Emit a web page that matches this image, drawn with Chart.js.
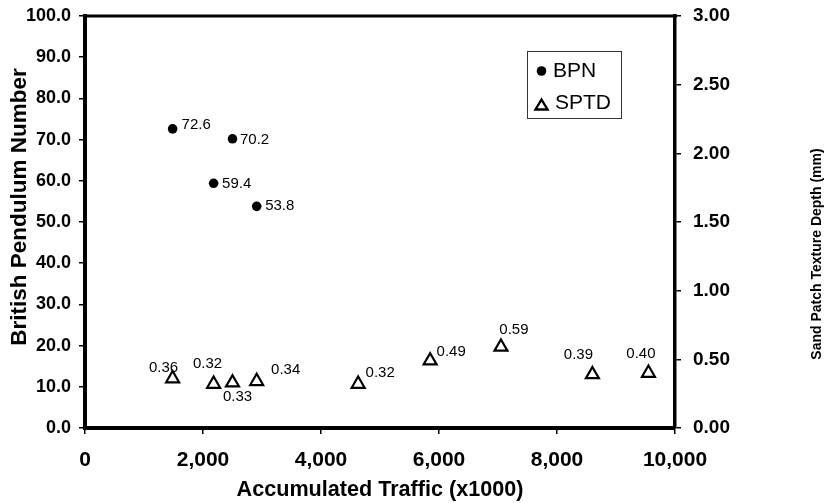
<!DOCTYPE html>
<html>
<head>
<meta charset="utf-8">
<script src="https://cdn.jsdelivr.net/npm/chart.js@4.4.0/dist/chart.umd.min.js"></script>
<style>
  body { margin: 0; background: #fff; }
  canvas { display: block; }
</style>
</head>
<body>
<canvas id="chart-area" width="829" height="503"></canvas>
<script>
// traffic (x1000) where each section was measured
var traffic = [1485, 2180, 2500, 2910, 4630, 5850, 7050, 8600, 9550]
// british pendulum number, only the first four sections
var bpn = [72.6, 59.4, 70.2, 53.8]
// sand patch texture depth (mm)
var sptd = [0.36, 0.32, 0.33, 0.34, 0.32, 0.49, 0.59, 0.39, 0.40]

var xTicks = [0, 2000, 4000, 6000, 8000, 10000]
var bpnTicks = [0, 10, 20, 30, 40, 50, 60, 70, 80, 90, 100]
var sptdTicks = [0, 0.5, 1, 1.5, 2, 2.5, 3]

// where the value text goes next to each mark (dx, dy in px)
var bpnLabelPos = [[9, -4], [8.5, 1], [7.5, 1], [8.5, 0]]
var sptdLabelPos = [[-9, -11], [-6, -20.5], [5, 14], [29, -11], [22, -11.5], [21, -9], [13, -17], [-14, -19.5], [-7.5, -19]]

var FONT = '"Liberation Sans", Arial, sans-serif'

var bpnPoints = bpn.map(function(v, i){ return {x: traffic[i], y: v} })
var sptdPoints = sptd.map(function(v, i){ return {x: traffic[i], y: v} })

var valueLabels = {
	id: 'valueLabels',
	afterDatasetsDraw: function(chart){
		var ctx = chart.ctx
		ctx.save()
		ctx.fillStyle = '#000'
		ctx.font = '15px ' + FONT
		ctx.textBaseline = 'middle'

		var m0 = chart.getDatasetMeta(0)
		ctx.textAlign = 'left'
		m0.data.forEach(function(p, i){
			ctx.fillText(bpn[i].toFixed(1), p.x + bpnLabelPos[i][0], p.y + bpnLabelPos[i][1])
		})

		var m1 = chart.getDatasetMeta(1)
		ctx.textAlign = 'center'
		m1.data.forEach(function(p, i){
			ctx.fillText(sptd[i].toFixed(2), p.x + sptdLabelPos[i][0], p.y + sptdLabelPos[i][1])
		})
		ctx.restore()
	}
}

// top edge of the frame, y axis titles and the boxed legend
var frameAndLegend = {
	id: 'frameAndLegend',
	afterDraw: function(chart){
		var ctx = chart.ctx
		var a = chart.chartArea
		ctx.save()

		ctx.strokeStyle = '#000'
		ctx.lineWidth = 3
		ctx.beginPath()
		ctx.moveTo(a.left - 2, a.top)
		ctx.lineTo(a.right + 2, a.top)
		ctx.stroke()

		ctx.fillStyle = '#000'
		ctx.textAlign = 'center'
		ctx.textBaseline = 'middle'

		ctx.save()
		ctx.translate(20, 207)
		ctx.rotate(-Math.PI / 2)
		ctx.font = 'bold 22.5px ' + FONT
		ctx.fillText('British Pendulum Number', 0, 0)
		ctx.restore()

		ctx.save()
		ctx.translate(817, 254)
		ctx.rotate(-Math.PI / 2)
		ctx.font = 'bold 14px ' + FONT
		ctx.fillText('Sand Patch Texture Depth (mm)', 0, 0)
		ctx.restore()

		// legend
		ctx.lineWidth = 1
		ctx.strokeStyle = '#333'
		ctx.strokeRect(527.5, 51.5, 94, 67)

		ctx.beginPath()
		ctx.arc(541.5, 71, 4.8, 0, Math.PI * 2)
		ctx.fill()

		ctx.lineWidth = 2.4
		ctx.strokeStyle = '#000'
		ctx.beginPath()
		ctx.moveTo(541.5, 99.5)
		ctx.lineTo(547.5, 109.5)
		ctx.lineTo(535.5, 109.5)
		ctx.closePath()
		ctx.stroke()

		ctx.textAlign = 'left'
		ctx.font = '21px ' + FONT
		ctx.fillText('BPN', 553, 71)
		ctx.fillText('SPTD', 555, 103)

		ctx.restore()
	}
}

// keep the tick label overhang from pushing the plot down
function noVPad(s){
	s.paddingTop = 0
	s.paddingBottom = 0
}

var ctx = document.getElementById('chart-area').getContext('2d')
window.myScatter = new Chart(ctx, {
	type: 'scatter',
	data: {
		datasets: [{
			label: 'BPN',
			data: bpnPoints,
			yAxisID: 'y',
			pointStyle: 'circle',
			pointRadius: 4.8,
			pointHoverRadius: 4.8,
			backgroundColor: '#000',
			borderColor: '#000',
			borderWidth: 0
		}, {
			label: 'SPTD',
			data: sptdPoints,
			yAxisID: 'y2',
			pointStyle: 'triangle',
			pointRadius: 7.5,
			pointHoverRadius: 7.5,
			backgroundColor: 'rgba(0,0,0,0)',
			borderColor: '#000',
			borderWidth: 2.2
		}]
	},
	options: {
		responsive: false,
		animation: false,
		layout: { padding: { top: 16, left: 0, right: 0, bottom: 0 } },
		plugins: {
			legend: { display: false },
			tooltip: { enabled: false }
		},
		scales: {
			x: {
				type: 'linear',
				min: 0,
				max: 10000,
				afterBuildTicks: function(s){ s.ticks = xTicks.map(function(v){ return {value: v} }) },
				afterFit: function(s){ s.height = 75 },
				ticks: {
					color: '#000',
					padding: 14,
					maxRotation: 0,
					font: { family: FONT, size: 21, weight: 'bold' },
					callback: function(v){ return v.toLocaleString('en-US') }
				},
				grid: { drawOnChartArea: false, drawTicks: true, tickLength: 6, color: '#000', lineWidth: 1.5 },
				border: { display: true, color: '#000', width: 4 },
				title: {
					display: true,
					text: 'Accumulated Traffic (x1000)',
					color: '#000',
					padding: { top: 0, bottom: 0 },
					font: { family: FONT, size: 21.6, weight: 'bold' }
				}
			},
			y: {
				position: 'left',
				min: 0,
				max: 100,
				afterBuildTicks: function(s){ s.ticks = bpnTicks.map(function(v){ return {value: v} }) },
				afterFit: function(s){ s.width = 85; noVPad(s) },
				ticks: {
					color: '#000',
					padding: 8,
					font: { family: FONT, size: 18, weight: 'bold' },
					callback: function(v){ return v.toFixed(1) }
				},
				grid: { drawOnChartArea: false, drawTicks: true, tickLength: 6, color: '#000', lineWidth: 1.5 },
				border: { display: true, color: '#000', width: 4 }
			},
			y2: {
				position: 'right',
				min: 0,
				max: 3,
				afterBuildTicks: function(s){ s.ticks = sptdTicks.map(function(v){ return {value: v} }) },
				afterFit: function(s){ s.width = 154; noVPad(s) },
				ticks: {
					color: '#000',
					padding: 12,
					font: { family: FONT, size: 19, weight: 'bold' },
					callback: function(v){ return v.toFixed(2) }
				},
				grid: { drawOnChartArea: false, drawTicks: true, tickLength: 6, color: '#000', lineWidth: 1.5 },
				border: { display: true, color: '#000', width: 3.5 }
			}
		}
	},
	plugins: [valueLabels, frameAndLegend]
})
</script>
</body>
</html>
